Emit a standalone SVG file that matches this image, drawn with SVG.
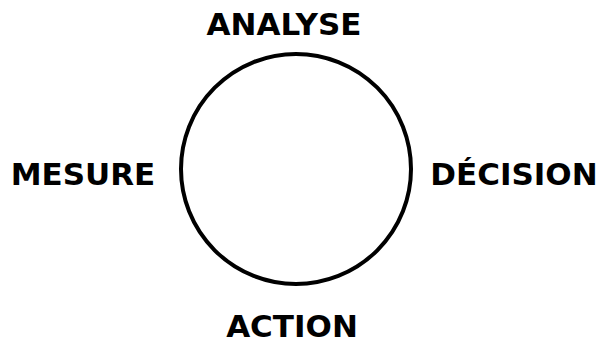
<svg xmlns="http://www.w3.org/2000/svg" width="610" height="342" viewBox="0 0 610 342">
<style>
.lbl{font-family:"DejaVu Sans","Verdana",sans-serif;font-weight:bold;font-size:31px;fill:#000;text-anchor:middle}
.ring{fill:none;stroke:#000;stroke-width:4}
</style>
<rect width="610" height="342" fill="#fff"/>
<g id="connectors">
<circle class="ring" cx="296" cy="169" r="115"/>
</g>
<g id="analyse"><text class="lbl" x="284" y="35">ANALYSE</text></g>
<g id="decision"><text class="lbl" x="514" y="185">DÉCISION</text></g>
<g id="action"><text class="lbl" x="292" y="337">ACTION</text></g>
<g id="mesure"><text class="lbl" x="83" y="185">MESURE</text></g>
</svg>
